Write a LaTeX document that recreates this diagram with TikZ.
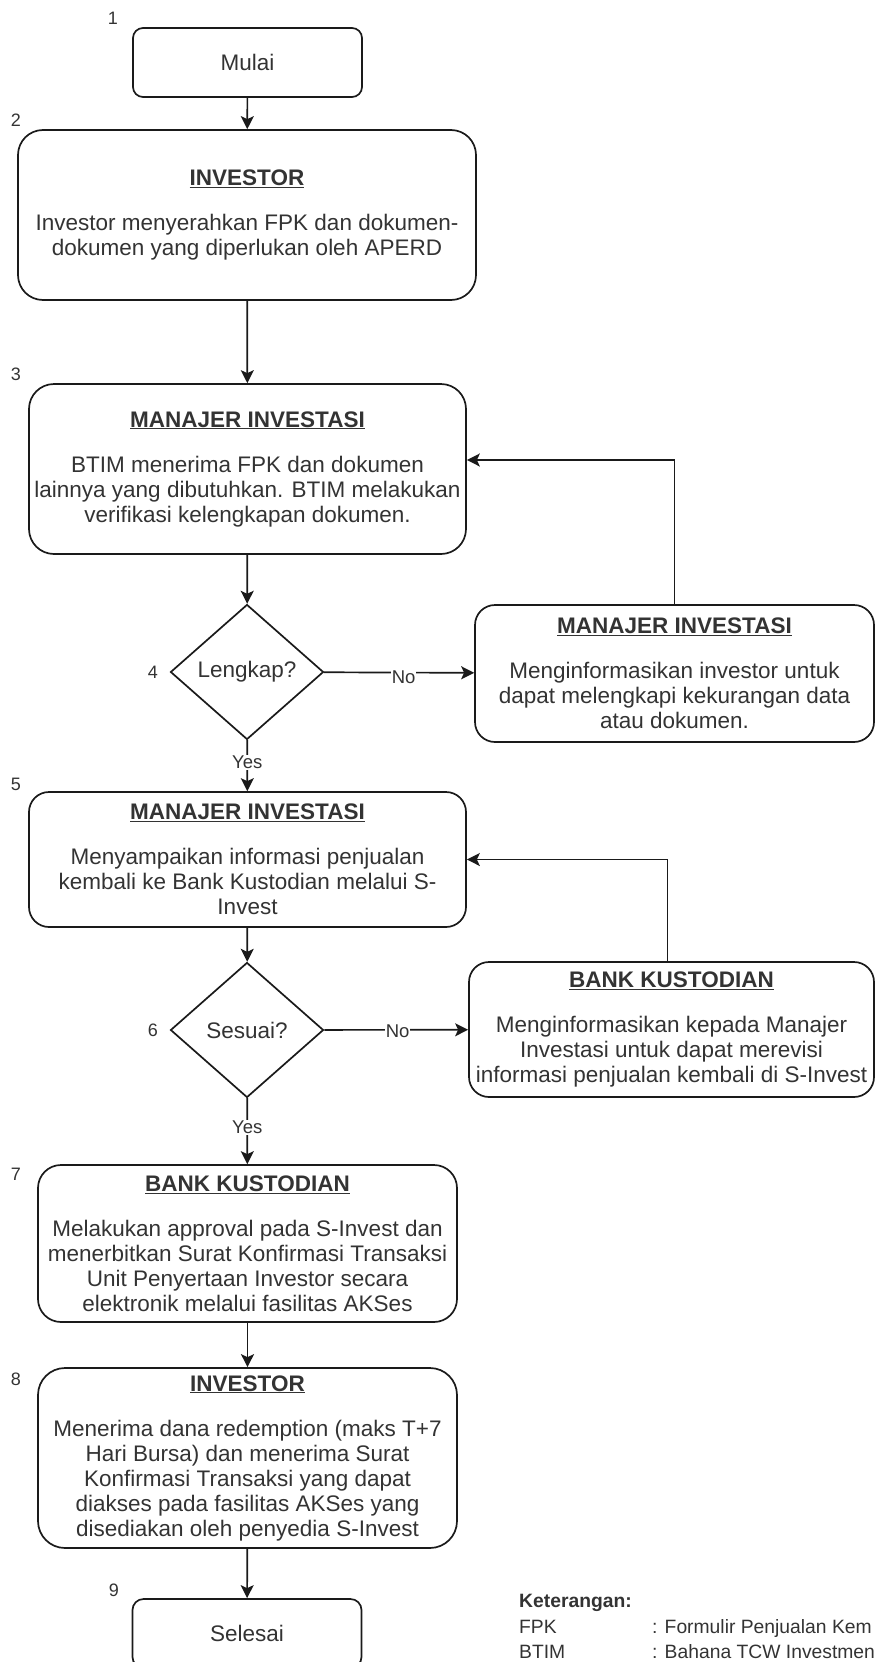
\documentclass[tikz,border=0pt]{standalone}
\usepackage{fontspec}
\setmainfont{Liberation Sans}
\usetikzlibrary{arrows.meta,shapes.geometric}
\definecolor{txt}{HTML}{333333}
\definecolor{ln}{HTML}{1A1A1A}
\newcommand{\boxtitle}[1]{\textbf{\underline{#1}}}
\begin{document}
\begin{tikzpicture}[x=1pt,y=-1pt,
  font=\fontsize{22.5}{25}\selectfont,
  box/.style={draw=ln, line width=1.7pt, align=center, inner sep=0pt, text=txt},
  dec/.style={draw=ln, line width=1.7pt, shape=diamond, inner sep=0pt, text=txt,
              minimum width=153pt, minimum height=135pt},
  arr/.style={draw=ln, line width=1.7pt, -{Stealth[length=13pt,width=13pt,inset=3pt]}},
  num/.style={font=\fontsize{18}{22}\selectfont, text=txt, inner sep=0pt},
  lbl/.style={font=\fontsize{18.5}{22}\selectfont, text=txt, fill=white, inner sep=1pt},
  leg/.style={font=\fontsize{19.3}{25}\selectfont, text=txt, inner sep=0pt, anchor=base west}]
\useasboundingbox (0,0) rectangle (876,1662);
\clip (0,0) rectangle (876,1662);

% step numbers
\node[num] (n1) at (113,18) {1};
\node[num] (n2) at (16,120) {2};
\node[num] (n3) at (16,374) {3};
\node[num] (n4) at (153,672) {4};
\node[num] (n5) at (16,784) {5};
\node[num] (n6) at (153,1030) {6};
\node[num] (n7) at (16,1174) {7};
\node[num] (n8) at (16,1379) {8};
\node[num] (n9) at (114,1590) {9};

% boxes
\node[box, rounded corners=10pt, minimum width=229pt, minimum height=69pt] (b1) at (247.5,62.5) {Mulai};

\node[box, rounded corners=25pt, minimum width=458pt, minimum height=170pt] (b2) at (247,215)
  {\boxtitle{INVESTOR}\\[20pt]
   Investor menyerahkan FPK dan dokumen-\\
   dokumen yang diperlukan oleh APERD};

\node[box, rounded corners=25pt, minimum width=437pt, minimum height=170pt] (b3) at (247.5,469)
  {\boxtitle{MANAJER INVESTASI}\\[20pt]
   BTIM menerima FPK dan dokumen\\
   lainnya yang dibutuhkan. BTIM melakukan\\
   verifikasi kelengkapan dokumen.};

\node[dec] (d4) at (247,672) {Lengkap?};

\node[box, rounded corners=20pt, minimum width=399pt, minimum height=137pt] (b4) at (674.5,673.5)
  {\boxtitle{MANAJER INVESTASI}\\[20pt]
   Menginformasikan investor untuk\\
   dapat melengkapi kekurangan data\\
   atau dokumen.};

\node[box, rounded corners=20pt, minimum width=437pt, minimum height=135pt] (b5) at (247.5,859.5)
  {\boxtitle{MANAJER INVESTASI}\\[20pt]
   Menyampaikan informasi penjualan\\
   kembali ke Bank Kustodian melalui S-\\
   Invest};

\node[dec] (d6) at (247,1030) {Sesuai?};

\node[box, rounded corners=20pt, minimum width=405pt, minimum height=135pt] (b6) at (671.5,1029.5)
  {\boxtitle{BANK KUSTODIAN}\\[20pt]
   Menginformasikan kepada Manajer\\
   Investasi untuk dapat merevisi\\
   informasi penjualan kembali di S-Invest};

\node[box, rounded corners=23pt, minimum width=419pt, minimum height=157pt] (b7) at (247.5,1243.5)
  {\boxtitle{BANK KUSTODIAN}\\[20pt]
   Melakukan approval pada S-Invest dan\\
   menerbitkan Surat Konfirmasi Transaksi\\
   Unit Penyertaan Investor secara\\
   elektronik melalui fasilitas AKSes};

\node[box, rounded corners=27pt, minimum width=419pt, minimum height=180pt] (b8) at (247.5,1458)
  {\boxtitle{INVESTOR}\\[20pt]
   Menerima dana redemption (maks T+7\\
   Hari Bursa) dan menerima Surat\\
   Konfirmasi Transaksi yang dapat\\
   diakses pada fasilitas AKSes yang\\
   disediakan oleh penyedia S-Invest};

\node[box, rounded corners=11pt, minimum width=229pt, minimum height=69pt] (b9) at (247,1633.5) {Selesai};

% connectors
\draw[arr] (b1) -- (b2);
\draw[arr] (b2) -- (b3);
\draw[arr] (b3) -- (d4);
\draw[arr] (d4) -- node[lbl, pos=0.53, yshift=-5pt] {No} (b4);
\draw[arr] (d4) -- node[lbl, pos=0.44] {Yes} (b5);
\draw[arr] (b4.north) |- ([yshift=9pt]b3.east);
\draw[arr] (b5) -- (d6);
\draw[arr] (d6) -- node[lbl, pos=0.51, yshift=-1pt] {No} (b6);
\draw[arr] (d6) -- node[lbl, pos=0.44] {Yes} (b7);
\draw[arr] ([xshift=-4pt]b6.north) |- (b5.east);
\draw[arr] (b7) -- (b8);
\draw[arr] (b8) -- (b9);

% legend
\node[leg, font=\fontsize{19.3}{25}\selectfont\bfseries] (ket) at (519,1607) {Keterangan:};
\node[leg] (fpk) at (519,1633) {FPK};
\node[leg] (fpkd) at (652,1633) {: Formulir Penjualan Kem};
\node[leg] (btim) at (519,1658) {BTIM};
\node[leg] (btimd) at (652,1658) {: Bahana TCW Investmen};
\end{tikzpicture}
\end{document}
